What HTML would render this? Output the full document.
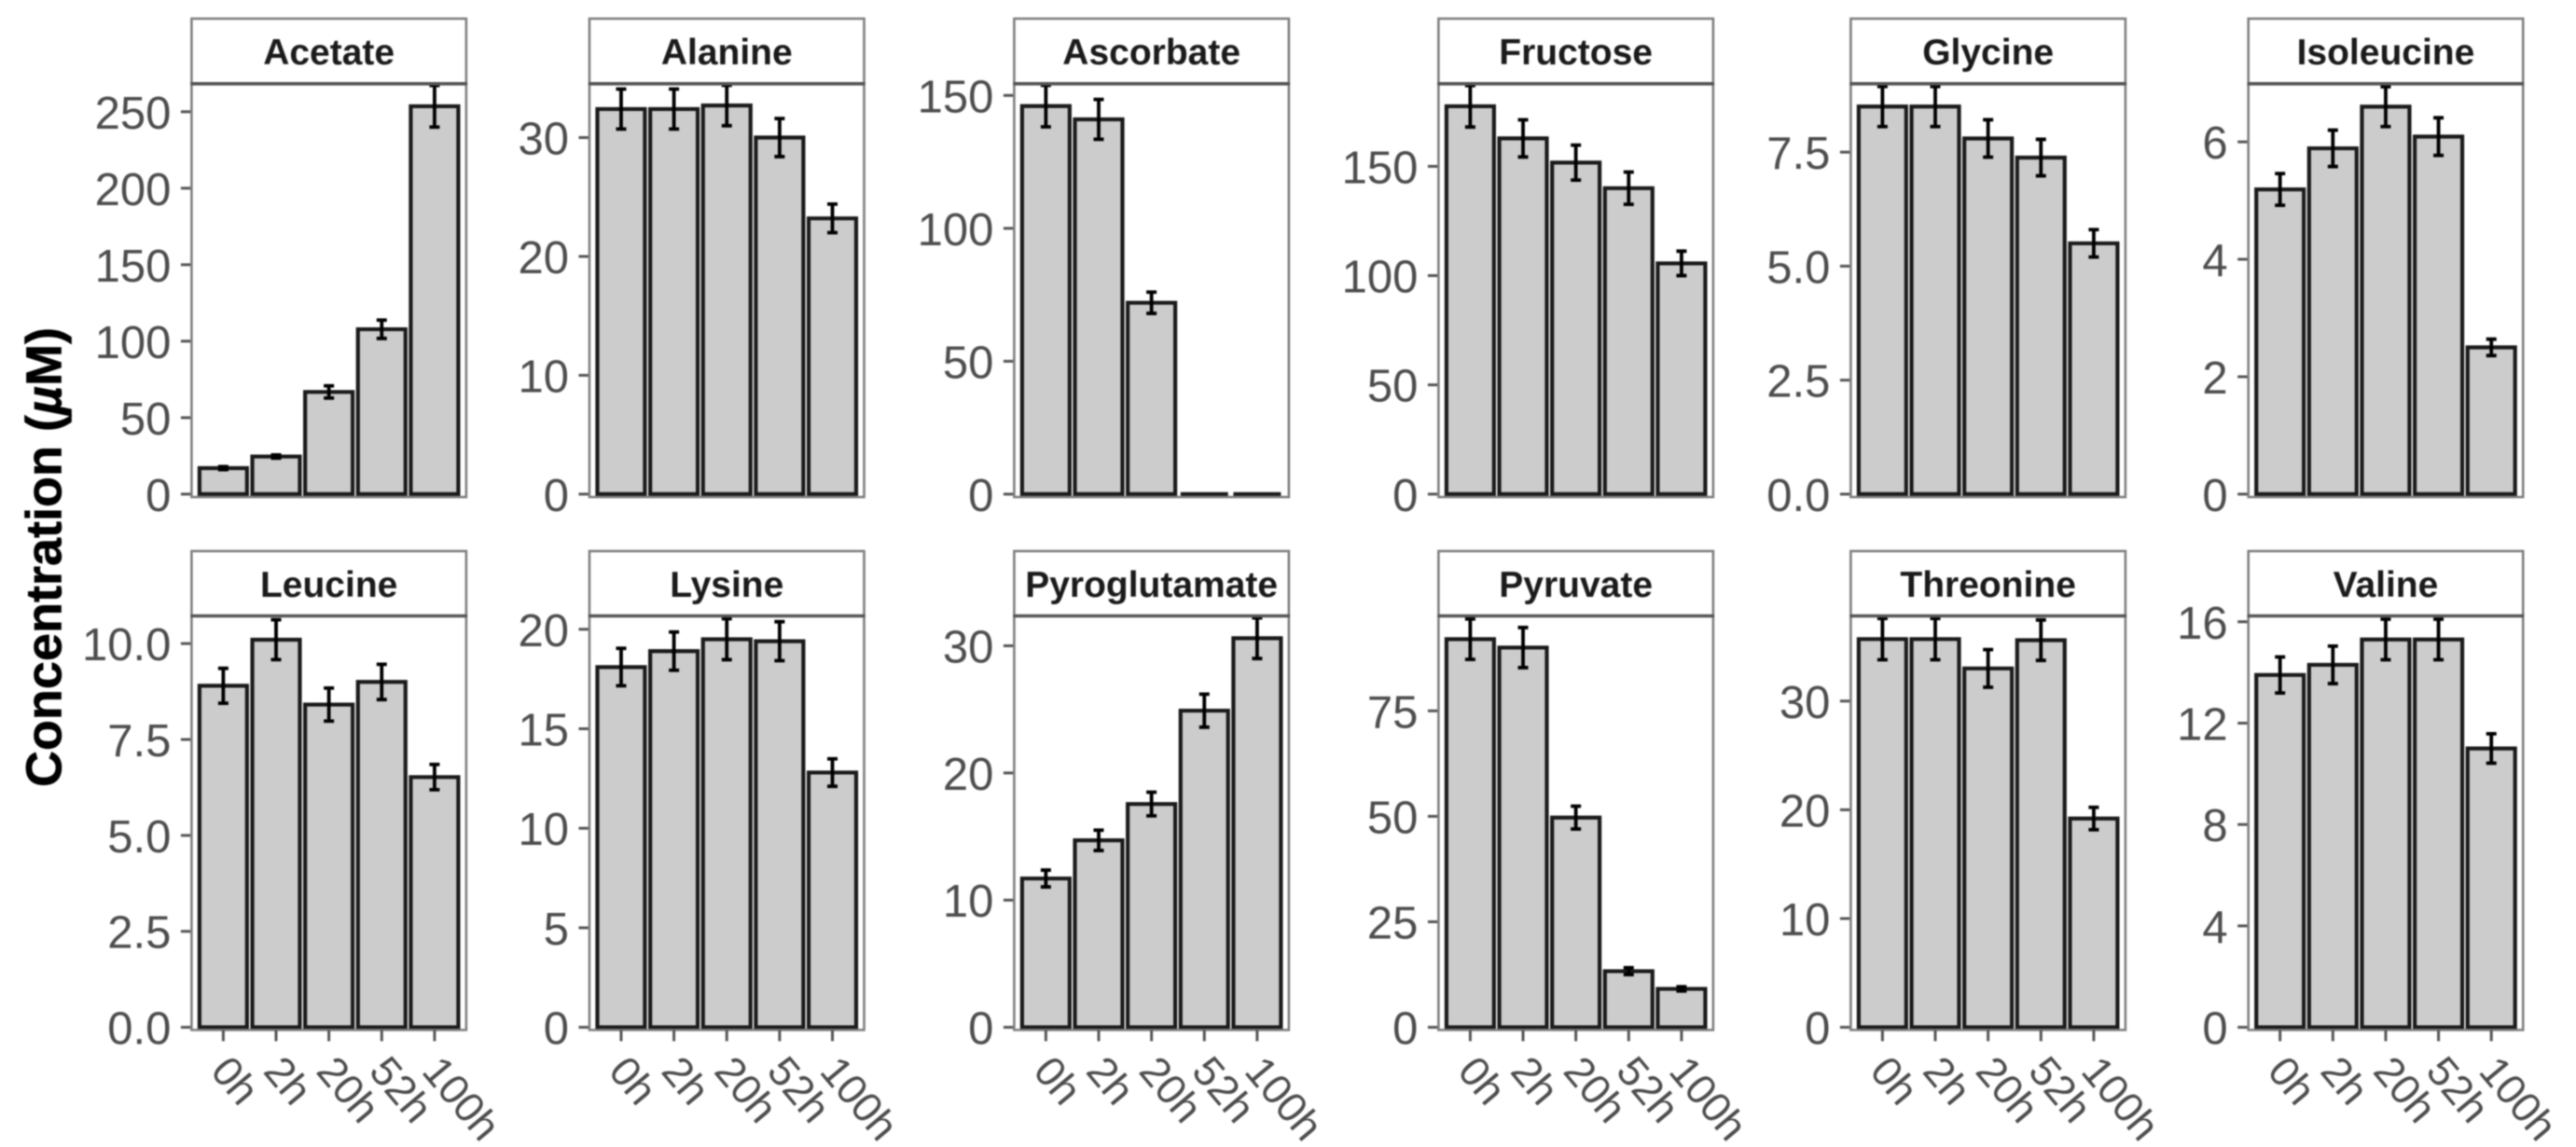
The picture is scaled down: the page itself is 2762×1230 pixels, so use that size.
<!DOCTYPE html>
<html lang="en">
<head>
<meta charset="utf-8">
<title>Metabolite concentration over time</title>
<style>
  html, body { margin: 0; padding: 0; background: #fff; }
  #chart { display: block; width: 2762px; height: 1230px; filter: blur(0.8px); }
  text { font-family: "Liberation Sans", sans-serif; }
</style>
</head>
<body>
<svg id="chart" xmlns="http://www.w3.org/2000/svg" width="2762" height="1230" viewBox="0 0 2762 1230">
  <rect x="0" y="0" width="2762" height="1230" fill="#ffffff"/>
  <text transform="translate(65.5,597.5) rotate(-90)" text-anchor="middle" font-size="54" font-weight="700" fill="#000000" stroke="#000000" stroke-width="0.6">Concentration (<tspan font-style="italic">µ</tspan>M)</text>
</svg>
<script>
// ---------- chart data ----------
const metabolites = ["Acetate", "Alanine", "Ascorbate", "Fructose", "Glycine", "Isoleucine",
                     "Leucine", "Lysine", "Pyroglutamate", "Pyruvate", "Threonine", "Valine"];
const timepoints = ["0h", "2h", "20h", "52h", "100h"];

const acetateValues       = [17, 24.6, 66.8, 107.8, 253.6];
const alanineValues       = [32.4, 32.4, 32.7, 30.0, 23.2];
const ascorbateValues     = [146, 141, 72, 0, 0];
const fructoseValues      = [177.5, 162.8, 151.7, 140, 105.6];
const glycineValues       = [8.5, 8.5, 7.8, 7.38, 5.5];
const isoleucineValues    = [5.19, 5.89, 6.6, 6.09, 2.5];
const leucineValues       = [8.9, 10.1, 8.41, 9.0, 6.52];
const lysineValues        = [18.1, 18.9, 19.5, 19.4, 12.8];
const pyroglutamateValues = [11.7, 14.7, 17.56, 24.9, 30.6];
const pyruvateValues      = [92, 90, 49.7, 13.3, 9.1];
const threonineValues     = [35.7, 35.7, 33, 35.6, 19.2];
const valineValues        = [13.9, 14.3, 15.3, 15.3, 11.0];

const acetateErrors       = [1, 1, 4, 6, 13.6];
const alanineErrors       = [1.68, 1.68, 1.7, 1.6, 1.2];
const ascorbateErrors     = [7.8, 7.5, 4, 0, 0];
const fructoseErrors      = [9.5, 8.5, 8, 7.4, 5.6];
const glycineErrors       = [0.44, 0.44, 0.41, 0.4, 0.3];
const isoleucineErrors    = [0.27, 0.31, 0.34, 0.32, 0.14];
const leucineErrors       = [0.455, 0.52, 0.43, 0.46, 0.33];
const lysineErrors        = [0.94, 0.96, 1.03, 0.98, 0.69];
const pyroglutamateErrors = [0.66, 0.8, 0.93, 1.3, 1.6];
const pyruvateErrors      = [4.8, 4.75, 2.7, 0.8, 0.5];
const threonineErrors     = [1.9, 1.9, 1.73, 1.86, 1.03];
const valineErrors        = [0.71, 0.74, 0.8, 0.8, 0.58];

const seriesValues = [acetateValues, alanineValues, ascorbateValues, fructoseValues, glycineValues, isoleucineValues,
                      leucineValues, lysineValues, pyroglutamateValues, pyruvateValues, threonineValues, valineValues];
const seriesErrors = [acetateErrors, alanineErrors, ascorbateErrors, fructoseErrors, glycineErrors, isoleucineErrors,
                      leucineErrors, lysineErrors, pyroglutamateErrors, pyruvateErrors, threonineErrors, valineErrors];

const axisMax = [268.3, 34.53, 154.4, 187.8, 9.0, 6.99, 10.72, 20.67, 32.35, 97.5, 37.83, 16.23];

const tickValues = [
  [0, 50, 100, 150, 200, 250],
  [0, 10, 20, 30],
  [0, 50, 100, 150],
  [0, 50, 100, 150],
  [0, 2.5, 5, 7.5],
  [0, 2, 4, 6],
  [0, 2.5, 5, 7.5, 10],
  [0, 5, 10, 15, 20],
  [0, 10, 20, 30],
  [0, 25, 50, 75],
  [0, 10, 20, 30],
  [0, 4, 8, 12, 16]
];
const tickLabels = [
  ["0", "50", "100", "150", "200", "250"],
  ["0", "10", "20", "30"],
  ["0", "50", "100", "150"],
  ["0", "50", "100", "150"],
  ["0.0", "2.5", "5.0", "7.5"],
  ["0", "2", "4", "6"],
  ["0.0", "2.5", "5.0", "7.5", "10.0"],
  ["0", "5", "10", "15", "20"],
  ["0", "10", "20", "30"],
  ["0", "25", "50", "75"],
  ["0", "10", "20", "30"],
  ["0", "4", "8", "12", "16"]
];

// ---------- layout (not data) ----------
const columnLeft = [205.4, 632, 1087.4, 1542.4, 1984.4, 2410.7];
const panelWidth = 294.5;
const rowLayout = [
  { stripTop: 20, panelTop: 89.8, zeroY: 529.9, panelBottom: 533 },
  { stripTop: 591, panelTop: 660.5, zeroY: 1101.6, panelBottom: 1104.5 }
];

const SVG_NS = "http://www.w3.org/2000/svg";
const chart = document.getElementById("chart");

function make(tag, attrs, parent, txt) {
  const node = document.createElementNS(SVG_NS, tag);
  for (const k in attrs) node.setAttribute(k, attrs[k]);
  if (txt !== undefined) node.textContent = txt;
  parent.appendChild(node);
  return node;
}

// axis functions
function panelLeft(p) { return columnLeft[p % 6]; }
function panelRow(p) { return rowLayout[p < 6 ? 0 : 1]; }
function xScale(p, i) { return panelLeft(p) + (0.6 + i) * panelWidth / 5.2; }
function yScale(p, v) {
  const r = panelRow(p);
  return r.zeroY - (v / axisMax[p]) * (r.zeroY - r.panelTop);
}

metabolites.forEach(function (name, p) {
  const left = panelLeft(p);
  const row = panelRow(p);
  const step = panelWidth / 5.2;
  const slug = name.toLowerCase();

  const group = make("g", {}, chart);
  
  

  const panelBg = make("rect", { x: left, y: row.panelTop, width: panelWidth, height: row.panelBottom - row.panelTop, fill: "#ffffff" }, group);
  
  

  // y axis
  tickValues[p].forEach(function (v, t) {
    const y = yScale(p, v);
    const tick = make("line", { x1: left - 11.5, x2: left, y1: y, y2: y, stroke: "#555555", "stroke-width": 3 }, group);
    
    
    const lab = make("text", { x: left - 22, y: y + 18, "text-anchor": "end", "font-size": 49, fill: "#4d4d4d" }, group, tickLabels[p][t]);
    
    
  });

  // bars and error bars
  timepoints.forEach(function (tp, i) {
    const cx = xScale(p, i);
    const x0 = cx - 0.45 * step;
    const x1 = cx + 0.45 * step;
    const yTop = yScale(p, seriesValues[p][i]);
    const yBase = yScale(p, 0);
    const bar = make("path", {
      d: "M" + x0 + " " + yBase + " V" + yTop + " H" + x1 + " V" + yBase + " Z",
      fill: "#cccccc", stroke: "#1a1a1a", "stroke-width": 4.2, "stroke-linejoin": "miter"
    }, group);
    
    
  });

  timepoints.forEach(function (tp, i) {
    const err = seriesErrors[p][i];
    if (err <= 0) return;
    const cx = xScale(p, i);
    const yHi = yScale(p, seriesValues[p][i] + err);
    const yLo = yScale(p, seriesValues[p][i] - err);
    const cap = 5.5;
    const eb = make("path", {
      d: "M" + (cx - cap) + " " + yHi + " H" + (cx + cap) + " M" + cx + " " + yHi + " V" + yLo + " M" + (cx - cap) + " " + yLo + " H" + (cx + cap),
      fill: "none", stroke: "#000000", "stroke-width": 3.8
    }, group);
    
    
  });

  // panel border
  const border = make("rect", { x: left, y: row.panelTop, width: panelWidth, height: row.panelBottom - row.panelTop, fill: "none", stroke: "#7f7f7f", "stroke-width": 2.6 }, group);
  
  

  // strip
  const strip = make("rect", { x: left, y: row.stripTop, width: panelWidth, height: row.panelTop - row.stripTop, fill: "#ffffff", stroke: "#7f7f7f", "stroke-width": 2.6 }, group);
  
  
  const stripLine = make("line", { x1: left - 1, x2: left + panelWidth + 1, y1: row.panelTop, y2: row.panelTop, stroke: "#555555", "stroke-width": 3.6 }, group);
  
  
  const stripText = make("text", { x: left + panelWidth / 2, y: row.stripTop + 49.2, "text-anchor": "middle", "font-size": 39, "font-weight": 700, fill: "#1a1a1a" }, group, name);
  
  

  // x axis on bottom row only
  if (p >= 6) {
    timepoints.forEach(function (tp, i) {
      const cx = xScale(p, i);
      const tick = make("line", { x1: cx, x2: cx, y1: row.panelBottom, y2: row.panelBottom + 12, stroke: "#555555", "stroke-width": 3 }, group);
      
      
      const ax = cx - 15;
      const ay = row.panelBottom + 45;
      const lab = make("text", { transform: "translate(" + ax + "," + ay + ") rotate(50)", "text-anchor": "start", "font-size": 45, fill: "#4d4d4d" }, group, tp);
      
      
    });
  }
});
</script>
</body>
</html>
